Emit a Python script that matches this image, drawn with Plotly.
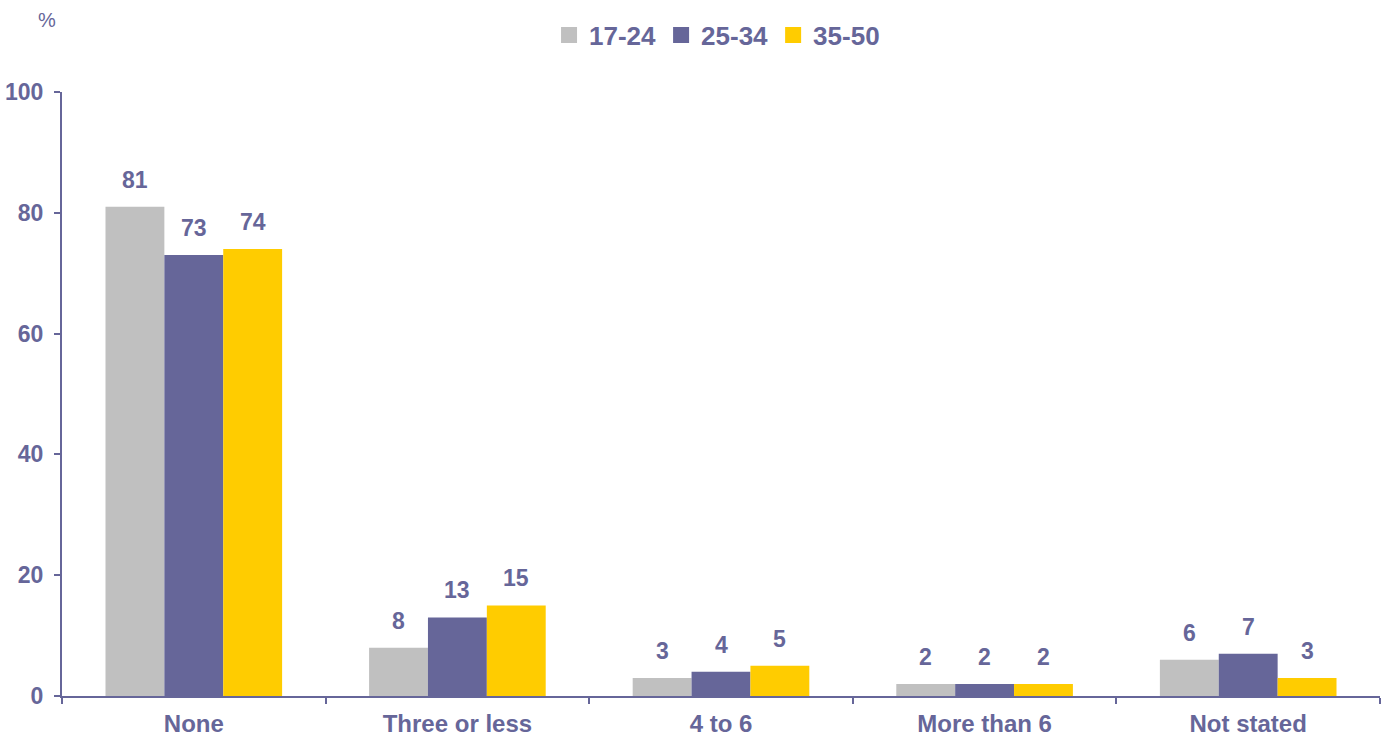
import plotly.graph_objects as go

categories = ["None", "Three or less", "4 to 6", "More than 6", "Not stated"]
series_names = ["17-24", "25-34", "35-50"]
values_17_24 = [81, 8, 3, 2, 6]
values_25_34 = [73, 13, 4, 2, 7]
values_35_50 = [74, 15, 5, 2, 3]
y_ticks = [0, 20, 40, 60, 80, 100]

colors = ["#C0C0C0", "#666699", "#FFCC00"]
text_color = "#666699"
font_family = "Liberation Sans, Arial, sans-serif"

all_series = [values_17_24, values_25_34, values_35_50]
bargap = 0.33
bar_w = (1 - bargap) / len(all_series)

fig = go.Figure()
for name, vals, col in zip(series_names, all_series, colors):
    fig.add_trace(go.Bar(
        name=name, x=categories, y=vals, marker=dict(color=col, line=dict(width=0)),
        showlegend=False, hoverinfo="x+y+name",
    ))
    # square swatch for the legend
    fig.add_trace(go.Scatter(
        name=name, x=[None], y=[None], mode="markers",
        marker=dict(symbol="square", size=19, color=col), showlegend=True,
    ))

annotations = []
for j, vals in enumerate(all_series):
    offset = (j - (len(all_series) - 1) / 2) * bar_w
    for i, v in enumerate(vals):
        annotations.append(dict(
            x=i + offset, y=v, xref="x", yref="y", text=str(v), showarrow=False,
            yanchor="bottom", yshift=12,
            font=dict(family=font_family, size=23, color=text_color, weight="bold"),
        ))
annotations.append(dict(
    x=-0.0114, y=1.119, xref="paper", yref="paper", text="%", showarrow=False,
    xanchor="center", yanchor="middle",
    font=dict(family=font_family, size=20, color=text_color),
))

fig.update_layout(
    width=1386, height=736,
    margin=dict(l=62, r=6, t=92, b=40),
    paper_bgcolor="white", plot_bgcolor="white",
    barmode="group", bargap=bargap, bargroupgap=0,
    font=dict(family=font_family, color=text_color),
    legend=dict(
        orientation="h", x=0.497, xanchor="center", y=1.094, yanchor="middle",
        font=dict(family=font_family, size=26, color=text_color, weight="bold"),
        itemwidth=30, tracegroupgap=0,
    ),
    annotations=annotations,
    xaxis=dict(
        type="category", showline=True, linecolor=text_color, linewidth=2,
        ticks="outside", tickson="boundaries", ticklen=6, tickcolor=text_color, tickwidth=2,
        tickfont=dict(family=font_family, size=24, color=text_color, weight="bold"),
        showgrid=False, zeroline=False, range=[-0.5, 4.5], ticklabelstandoff=5,
        automargin=False,
    ),
    yaxis=dict(
        range=[0, 100], tickvals=y_ticks, showline=True, linecolor=text_color, linewidth=2,
        ticks="outside", ticklen=6, tickcolor=text_color, tickwidth=2,
        tickfont=dict(family=font_family, size=23, color=text_color, weight="bold"),
        showgrid=False, zeroline=False, ticklabelstandoff=6, automargin=False,
    ),
)

fig.write_html("out.html")
